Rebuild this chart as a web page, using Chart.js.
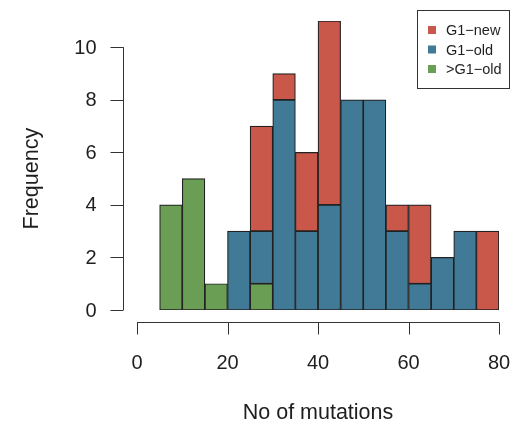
<!DOCTYPE html>
<html>
<head>
<meta charset="utf-8">
<script src="https://cdn.jsdelivr.net/npm/chart.js@4"></script>
<style>
  html, body { margin: 0; padding: 0; background: #fff; }
  #wrap { width: 511px; height: 425px; }
</style>
</head>
<body>
<div id="wrap"><canvas id="histChart" width="511" height="425"></canvas></div>
<script>
// histogram bins (left edges), width 5
const binStarts = [5, 10, 15, 20, 25, 30, 35, 40, 45, 50, 55, 60, 65, 70, 75];
const binWidth = 5;
const g1New   = [0, 0, 0, 0, 4, 1, 3, 7, 0, 0, 1, 3, 0, 0, 3];
const g1Old   = [0, 0, 0, 3, 2, 8, 3, 4, 8, 8, 3, 1, 2, 3, 0];
const gtG1Old = [4, 5, 1, 0, 1, 0, 0, 0, 0, 0, 0, 0, 0, 0, 0];
const xTicks = [0, 20, 40, 60, 80];
const yTicks = [0, 2, 4, 6, 8, 10];

const colors = { new: '#c9574a', old: '#417a96', gt: '#6a9e55' };

function toPoints(vals) {
  return binStarts
    .map((s, i) => ({ x: s + binWidth / 2, y: vals[i] }))
    .filter(p => p.y > 0);
}

const baseFont = '"Liberation Sans", Arial, sans-serif';

const rAxes = {
  id: 'rAxes',
  afterDraw(chart) {
    const ctx = chart.ctx;
    const xs = chart.scales.x, ys = chart.scales.y;
    const area = chart.chartArea;
    ctx.save();
    ctx.strokeStyle = '#333';
    ctx.lineWidth = 1;
    ctx.fillStyle = '#1e1e1e';

    // y axis
    const yx = Math.round(area.left - 14) + 0.5;
    ctx.beginPath();
    ctx.moveTo(yx, ys.getPixelForValue(yTicks[0]));
    ctx.lineTo(yx, ys.getPixelForValue(yTicks[yTicks.length - 1]));
    yTicks.forEach(t => {
      const py = Math.round(ys.getPixelForValue(t)) + 0.5;
      ctx.moveTo(yx, py);
      ctx.lineTo(yx - 13, py);
    });
    ctx.stroke();
    ctx.font = '20px ' + baseFont;
    ctx.textAlign = 'right';
    ctx.textBaseline = 'middle';
    yTicks.forEach(t => ctx.fillText(String(t), yx - 27, ys.getPixelForValue(t) + 1));

    // x axis
    const xy = Math.round(area.bottom + 12) + 0.5;
    ctx.beginPath();
    ctx.moveTo(xs.getPixelForValue(xTicks[0]), xy);
    ctx.lineTo(xs.getPixelForValue(xTicks[xTicks.length - 1]), xy);
    xTicks.forEach(t => {
      const px = Math.round(xs.getPixelForValue(t)) + 0.5;
      ctx.moveTo(px, xy);
      ctx.lineTo(px, xy + 12);
    });
    ctx.stroke();
    ctx.textAlign = 'center';
    xTicks.forEach(t => ctx.fillText(String(t), xs.getPixelForValue(t), xy + 41));

    // titles
    ctx.font = '21.5px ' + baseFont;
    ctx.fillText('No of mutations', (xs.getPixelForValue(0) + xs.getPixelForValue(80)) / 2, 413);
    ctx.save();
    ctx.translate(32, (ys.getPixelForValue(0) + ys.getPixelForValue(10)) / 2);
    ctx.rotate(-Math.PI / 2);
    ctx.fillText('Frequency', 0, 0);
    ctx.restore();

    // legend box
    const lx = 417, ly = 10, lw = 92, lh = 78;
    ctx.strokeRect(lx + 0.5, ly + 0.5, lw, lh);
    const items = chart.data.datasets.slice().reverse();
    ctx.font = '14.5px ' + baseFont;
    ctx.textAlign = 'left';
    items.forEach((ds, i) => {
      const cy = 30 + i * 19.5;
      ctx.fillStyle = ds.backgroundColor;
      ctx.fillRect(428, cy - 4, 8, 8);
      ctx.fillStyle = '#1e1e1e';
      ctx.fillText(ds.label, 446, cy + 1);
    });
    ctx.restore();
  }
};

new Chart(document.getElementById('histChart'), {
  type: 'bar',
  data: {
    datasets: [
      { label: '>G1\u2212old', data: toPoints(gtG1Old), backgroundColor: colors.gt },
      { label: 'G1\u2212old', data: toPoints(g1Old), backgroundColor: colors.old },
      { label: 'G1\u2212new', data: toPoints(g1New), backgroundColor: colors.new }
    ].map(d => Object.assign(d, {
      borderColor: '#222',
      borderWidth: 1.2,
      borderSkipped: false,
      barPercentage: 1,
      categoryPercentage: 1
    }))
  },
  options: {
    responsive: false,
    animation: false,
    layout: { padding: { left: 137, right: 12, top: 21, bottom: 115 } },
    plugins: { legend: { display: false }, tooltip: { enabled: false } },
    scales: {
      x: { type: 'linear', min: 0, max: 80, offset: false, stacked: true, display: false },
      y: { min: 0, max: 11, stacked: true, display: false }
    }
  },
  plugins: [rAxes]
});
</script>
</body>
</html>
